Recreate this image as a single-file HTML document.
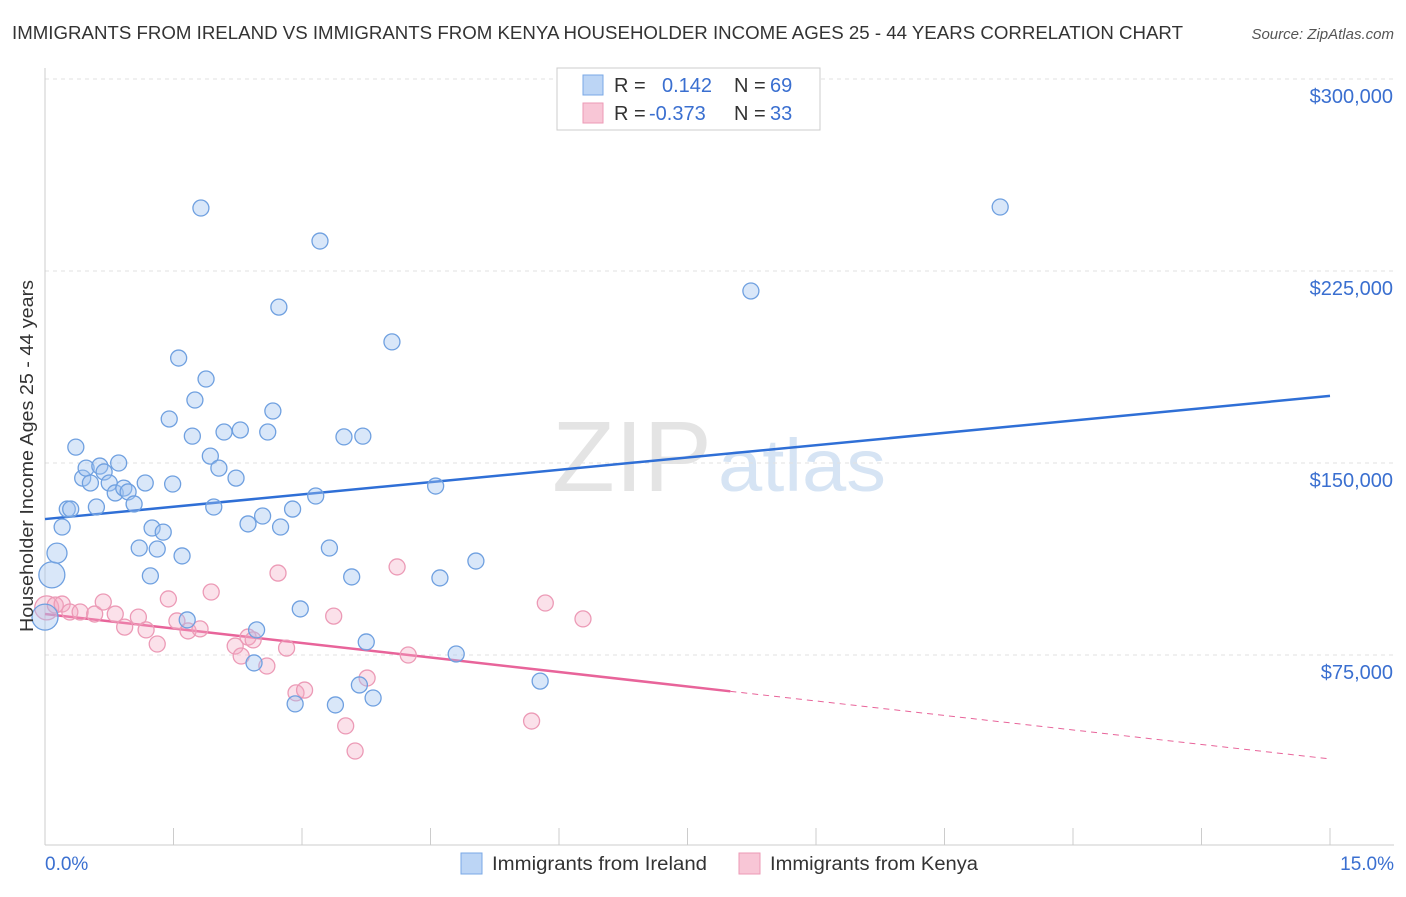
<!DOCTYPE html>
<html><head><meta charset="utf-8">
<style>
body{margin:0;background:#fff;font-family:"Liberation Sans",sans-serif;}
svg text{font-family:"Liberation Sans",sans-serif;}
</style></head>
<body>
<svg id="chart" width="1406" height="892" viewBox="0 0 1406 892" xmlns="http://www.w3.org/2000/svg">
<text x="12" y="39" font-size="18" fill="#333" textLength="1171" lengthAdjust="spacingAndGlyphs">IMMIGRANTS FROM IRELAND VS IMMIGRANTS FROM KENYA HOUSEHOLDER INCOME AGES 25 - 44 YEARS CORRELATION CHART</text>
<text x="1394" y="39" font-size="15" fill="#555" font-style="italic" text-anchor="end">Source: ZipAtlas.com</text>
<g>
<text x="552" y="491" font-size="100" fill="#e4e4e4" font-family="Liberation Serif" textLength="160" lengthAdjust="spacingAndGlyphs">ZIP</text>
<text x="718" y="491" font-size="74" fill="#d6e4f4" textLength="168" lengthAdjust="spacingAndGlyphs">atlas</text>
</g>
<g id="grid"></g>
<g id="axes"></g>
<g id="trends"></g>
<g id="points"></g>
<text transform="translate(33,456) rotate(-90)" font-size="18" fill="#333" text-anchor="middle" textLength="352" lengthAdjust="spacingAndGlyphs">Householder Income Ages 25 - 44 years</text>
<g>
<rect x="557" y="68" width="263" height="62" fill="#fff" stroke="#ccc"/>
<rect x="583" y="75" width="20" height="20" fill="#bcd5f5" stroke="#7aa8e6"/>
<rect x="583" y="103" width="20" height="20" fill="#f8c6d6" stroke="#ec9ab6"/>
<text x="614" y="92" font-size="20" fill="#333">R =</text>
<text x="662" y="92" font-size="20" fill="#3a6fd0">0.142</text>
<text x="734" y="92" font-size="20" fill="#333">N =</text>
<text x="770" y="92" font-size="20" fill="#3a6fd0">69</text>
<text x="614" y="120" font-size="20" fill="#333">R =</text>
<text x="649" y="120" font-size="20" fill="#3a6fd0">-0.373</text>
<text x="734" y="120" font-size="20" fill="#333">N =</text>
<text x="770" y="120" font-size="20" fill="#3a6fd0">33</text>
</g>
<g>
<rect x="461" y="853" width="21" height="21" fill="#bcd5f5" stroke="#7aa8e6"/>
<text x="492" y="870" font-size="19" fill="#333" textLength="215" lengthAdjust="spacingAndGlyphs">Immigrants from Ireland</text>
<rect x="739" y="853" width="21" height="21" fill="#f8c6d6" stroke="#ec9ab6"/>
<text x="770" y="870" font-size="19" fill="#333" textLength="208" lengthAdjust="spacingAndGlyphs">Immigrants from Kenya</text>
</g>
</svg>
<script>
const irelandX=[0.00,0.08,0.14,0.20,0.26,0.30,0.36,0.44,0.48,0.53,0.60,0.64,0.69,0.75,0.82,0.86,0.92,0.97,1.04,1.10,1.17,1.23,1.25,1.31,1.38,1.45,1.49,1.56,1.60,1.66,1.72,1.75,1.82,1.88,1.93,1.97,2.03,2.09,2.23,2.28,2.37,2.47,2.44,2.54,2.60,2.66,2.73,2.75,2.89,2.92,2.98,3.16,3.21,3.32,3.39,3.49,3.58,3.67,3.71,3.75,3.83,4.05,4.56,4.61,4.80,5.03,5.78,8.24,11.15];
const irelandY=[89.8,106.3,114.8,125.0,132.0,132.0,156.2,144.1,148.0,142.2,132.8,148.8,146.5,142.2,138.3,150.0,140.2,138.7,134.0,116.8,142.2,105.9,124.6,116.4,123.0,167.2,141.8,191.0,113.7,88.7,160.5,174.6,249.6,182.8,152.7,132.8,148.0,162.1,144.1,162.9,126.2,84.8,71.9,129.3,162.1,170.3,210.9,125.0,132.0,55.9,93.0,137.1,236.7,116.8,55.5,160.2,105.5,63.3,160.5,80.1,58.2,197.3,141.0,105.1,75.4,111.7,64.8,217.2,250.0];
const kenyaX=[0.02,0.12,0.20,0.29,0.41,0.58,0.68,0.82,0.93,1.09,1.18,1.31,1.44,1.54,1.67,1.81,1.94,2.22,2.29,2.37,2.43,2.59,2.72,2.82,2.93,3.03,3.37,3.51,3.62,3.76,4.11,4.24,5.68,5.84,6.28];
const kenyaY=[93.4,94.5,94.9,91.8,91.8,91.0,95.7,91.0,85.9,89.8,84.8,79.3,96.9,88.3,84.4,85.2,99.6,78.5,74.6,82.0,80.9,70.7,107.0,77.7,60.2,61.3,90.2,47.3,37.5,66.0,109.4,75.0,49.2,95.3,89.1];
const yTicks=[75,150,225,300];
const yTickLabels=["$75,000","$150,000","$225,000","$300,000"];
const xTickLabels=["0.0%","15.0%"];
const irelandTrend=[128.1,176.2];
const kenyaTrend=[91.0,34.4];
const kenyaSolidEnd=8.0;

const NS="http://www.w3.org/2000/svg";
const X0=45,X1=1330,Y0=847,YT=79;
const sx=v=>X0+(v/15)*(X1-X0);
const sy=v=>Y0-(v/300)*(Y0-YT);
function mk(tag,attrs,parent){const e=document.createElementNS(NS,tag);for(const k in attrs)e.setAttribute(k,attrs[k]);parent.appendChild(e);return e;}
const grid=document.getElementById('grid'),axes=document.getElementById('axes');
yTicks.forEach((t,i)=>{
  const g=mk('line',{x1:X0,x2:1394,y1:sy(t),y2:sy(t),stroke:'#e2e2e2','stroke-dasharray':'4,4'},grid);
  
  
  const l=mk('text',{x:1393,y:sy(t)+24,'font-size':20,fill:'#3a6fd0','text-anchor':'end'},axes);
  l.textContent=yTickLabels[i];
  
  
});
const xa=mk('line',{x1:X0,x2:1394,y1:845,y2:845,stroke:'#ccc'},axes);


const ya=mk('line',{x1:X0,x2:X0,y1:68,y2:845,stroke:'#ccc'},axes);


for(let i=1;i<=10;i++){
  const t=mk('line',{x1:sx(i*1.5),x2:sx(i*1.5),y1:828,y2:845,stroke:'#ccc'},axes);
  
  
}
const xl0=mk('text',{x:45,y:870,'font-size':19,fill:'#3a6fd0'},axes);xl0.textContent=xTickLabels[0];


const xl1=mk('text',{x:1394,y:870,'font-size':19,fill:'#3a6fd0','text-anchor':'end'},axes);xl1.textContent=xTickLabels[1];



const pts=document.getElementById('points');
kenyaX.forEach((x,i)=>{
  const c=mk('circle',{cx:sx(x),cy:sy(kenyaY[i]),r:i===0?12:8,fill:'rgba(244,170,196,0.35)',stroke:'#ec9ab6','stroke-width':1.3},pts);
  
  
});
irelandX.forEach((x,i)=>{
  const c=mk('circle',{cx:sx(x),cy:sy(irelandY[i]),r:i<2?13:(i===2?10:8),fill:'rgba(160,196,240,0.4)',stroke:'#6fa0e0','stroke-width':1.3},pts);
  
  
});
const tr=document.getElementById('trends');
const bl=mk('line',{x1:sx(0),y1:sy(irelandTrend[0]),x2:sx(15),y2:sy(irelandTrend[1]),stroke:'#2f6fd6','stroke-width':2.5},tr);


const kAt=x=>kenyaTrend[0]+(kenyaTrend[1]-kenyaTrend[0])*x/15;
const pl=mk('line',{x1:sx(0),y1:sy(kenyaTrend[0]),x2:sx(kenyaSolidEnd),y2:sy(kAt(kenyaSolidEnd)),stroke:'#e8649a','stroke-width':2.5},tr);


const pd=mk('line',{x1:sx(kenyaSolidEnd),y1:sy(kAt(kenyaSolidEnd)),x2:sx(15),y2:sy(kenyaTrend[1]),stroke:'#e8649a','stroke-width':1,'stroke-dasharray':'6,5'},tr);


</script>
</body></html>
